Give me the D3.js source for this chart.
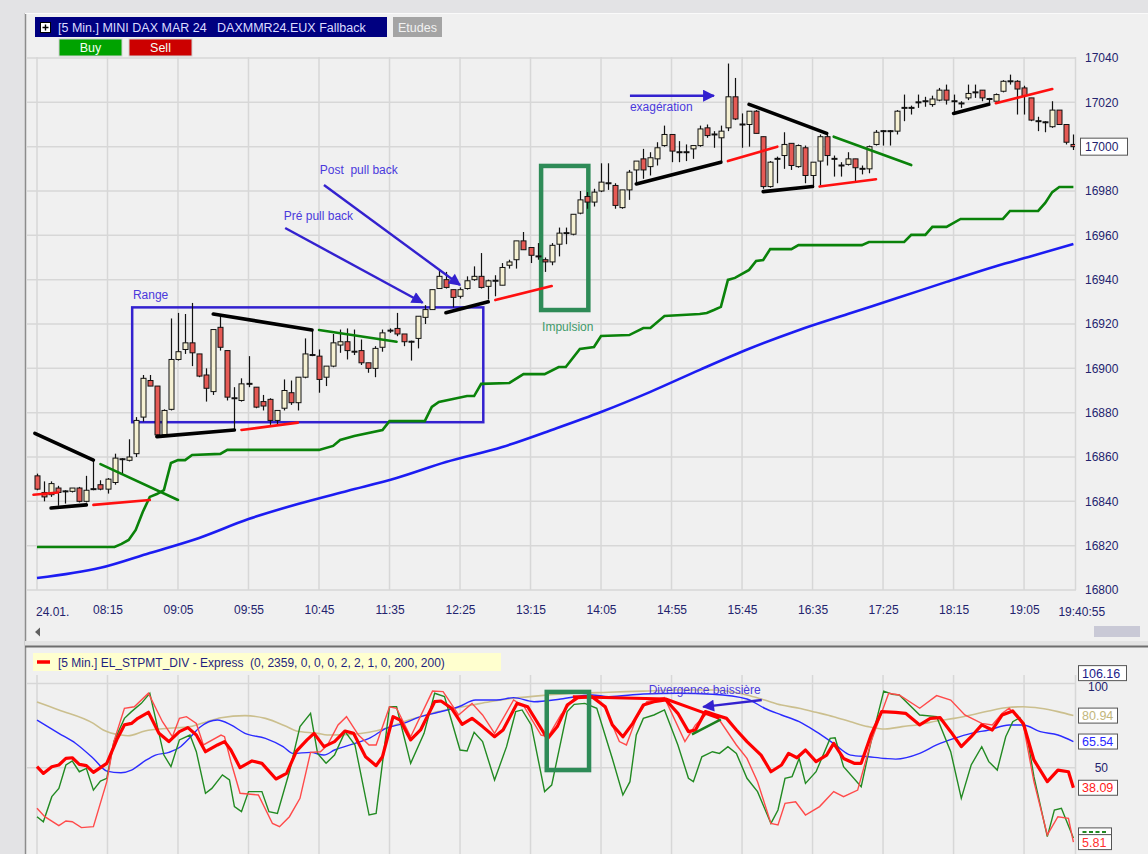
<!DOCTYPE html>
<html lang="fr">
<head>
  <meta charset="UTF-8">
  <title>MINI DAX MAR 24 - 5 Min.</title>
  <script src="https://d3js.org/d3.v7.min.js"></script>
  <style>
    body { margin: 0; background: #e2e2e2; }
    svg { display: block; font-family: "Liberation Sans", Arial, sans-serif; }
  </style>
</head>
<body>
<svg width="1148" height="854"></svg>
<script>
// ---- candles, 5 min bars, bar 0 = 07:25 ----
const opens  = [16851.5,16844,16843,16846,16844.5,16844.5,16846,16840,16845.5,16847.5,16845.5,16848.5,16859,16858.5,16861.5,16878,16894.5,16892,16870,16881.5,
  16904,16908.5,16911.5,16906.5,16897,16889.5,16918.5,16908,16886.5,16885.5,16893,16891.5,16885,16886,16876.5,16882,16889,16884.5,16896,16906,
  16905.5,16896,16901,16910.5,16912,16907.5,16908,16902.5,16900,16909.5,16917,16918,16915.5,16912,16913.5,16923,16926.5,16936,16940,16935.5,
  16932.5,16936,16940,16941.5,16937,16939.5,16937.5,16946.5,16949,16957.5,16954.5,16950.5,16949,16948,16956,16961,16960.5,16970,16977.5,16975,
  16980,16983.5,16982.5,16972.5,16980.5,16989.5,16994.5,16991,16994.5,17000.5,17005.5,16997.5,16997.5,16999,17000.5,17008.5,17005.5,17004,17008.5,17022.5,
  17010,17010,17016,17004.5,16982,16994.5,16996,17001.5,16991,16999.5,16987,16993.5,17004.5,16994.5,16991.5,16992,16994.5,16990,16990,17001,
  17007,17007,17007,17017.5,17017.5,17020,17020.5,17019,17021,17025.5,17020.5,17019.5,17022,17024.5,17025.5,17021.5,17020.5,17025,17029.5,17029.5,
  17026.5,17022,17011.5,17011,17009,17016.5,17010,17001];
const highs  = [16852.5,16849,16849,16847,16845,16846,16846.5,16851.5,16858.5,16849.5,16850.5,16861.5,16859.5,16868,16878,16897,16897,16892,16881.5,16922.5,
  16925,16924.5,16929.5,16906.5,16900,16917.5,16923.5,16908,16891.5,16895.5,16905.5,16891.5,16888,16886.5,16881,16895,16894.5,16896,16913.5,16917.5,
  16908.5,16901,16915.5,16917.5,16918,16917.5,16913,16902.5,16910,16917.5,16918,16925,16915.5,16912.5,16923.5,16928.5,16935.5,16944.5,16943.5,16935.5,
  16936.5,16941.5,16946,16952,16940,16942,16947.5,16949,16957.5,16961.5,16954.5,16956.5,16950,16956.5,16963.5,16963.5,16969.5,16980,16979.5,16981,
  16992.5,16992.5,16983.5,16980.5,16989.5,16993.5,16999,16997.5,17002,17009.5,17005.5,17002.5,17001,17000.5,17009.5,17010,17007,17009.5,17037.5,17031,
  17015,17016,17016.5,17004.5,16993.5,16995.5,17006.5,17001.5,17001,17000.5,16993,17005.5,17005.5,16996,16993,16997.5,16994.5,16991.5,17000.5,17007.5,
  17007.5,17007.5,17016.5,17023.5,17018.5,17023.5,17022.5,17023,17026.5,17028,17023.5,17020.5,17028,17028,17025.5,17022,17024,17030,17032.5,17030,
  17027.5,17022,17013.5,17011.5,17020.5,17016.5,17010,17005.5];
const lows   = [16845,16840,16842,16838,16839,16844,16839.5,16839.5,16845,16845,16843.5,16847.5,16852,16858,16860,16876,16892,16869,16869,16881,
  16903.5,16906.5,16901,16896,16885,16888,16908,16885.5,16872.5,16885,16891.5,16882,16881,16874.5,16874.5,16881,16883.5,16881,16895.5,16905.5,
  16889,16892,16900.5,16907,16904,16906,16901.5,16898,16896,16907.5,16916,16914.5,16910,16903.5,16909,16920,16926.5,16936,16936,16927.5,
  16931.5,16935.5,16939.5,16936,16931,16932.5,16937.5,16945,16945,16953.5,16947.5,16949,16943.5,16946.5,16950.5,16956,16960,16969.5,16972,16973,
  16979.5,16980.5,16972,16972,16976,16983.5,16985.5,16987,16991.5,17000,16993,16993,16993.5,16994.5,17000,17004,16999.5,16993,17007,17012,
  16999.5,17000,17006,16981,16981.5,16983.5,16990,16989.5,16990.5,16983.5,16982,16982.5,16991.5,16986.5,16986.5,16991.5,16984,16987.5,16988,17000.5,
  17000.5,17000.5,17005.5,17011.5,17014.5,17017.5,17018,17018,17020.5,17019,17015,17017.5,17021,17022,17020.5,17019,17020.5,17024.5,17028,17014.5,
  17014.5,17011.5,17007,17006.5,17008.5,17010,17001,16998.5];
const closes = [16845.5,16842,16848,16844,16844.5,16846,16840,16845,16845.5,16845.5,16850,16859.5,16859,16860,16876.5,16895.5,16892,16870,16881,16904,
  16907.5,16911.5,16907,16896.5,16891,16917.5,16909.5,16887,16886.5,16893,16893,16882.5,16883,16876.5,16881,16890,16884.5,16896,16906.5,16906,
  16895,16901,16911.5,16912,16908,16907.5,16902.5,16900,16909,16916,16917,16915.5,16912,16912,16923.5,16926.5,16935.5,16941.5,16936.5,16932,
  16935.5,16939.5,16941.5,16936.5,16939.5,16939.5,16945.5,16948,16957.5,16953.5,16951,16950.5,16948,16955.5,16961,16961,16969.5,16976,16975,16979.5,
  16984,16983.5,16973.5,16980.5,16988.5,16993.5,16989.5,16995,16999.5,17005.5,16998,16997.5,16997.5,17000.5,17008,17005,17005.5,17007,17022.5,17012.5,
  17010,17016,17006,16982,16993,16994.5,17001,16991.5,17000.5,16987,16993,17004.5,16996,16994.5,16991.5,16994.5,16990.5,16990,17000,17006.5,
  17007,17007,17016,17017.5,17017.5,17020,17020.5,17021.5,17025.5,17021,17020.5,17019.5,17024,17024.5,17022,17021.5,17023.5,17029.5,17029.5,17026,
  17023,17012,17011.5,17011,17016.5,17010,17002,17000];

// ---- time axis ----
const gridIdx = [0, 10, 20, 30, 40, 50, 60, 70, 80, 90, 100, 110, 120, 130, 140];
const timeIdx = [10, 20, 30, 40, 50, 60, 70, 80, 90, 100, 110, 120, 130, 140];
const timeLabels = ["08:15","09:05","09:55","10:45","11:35","12:25","13:15","14:05","14:55","15:45","16:35","17:25","18:15","19:05"];
const dayLabel = "24.01.";
const lastTimeLabel = "19:40:55";
const priceTicks = [16800,16820,16840,16860,16880,16900,16920,16940,16960,16980,17000,17020,17040];
const lastPrice = 17000;

// ---- overlays on price chart: [bar, price] ----
const greenStep = [[0,16819.4],[11,16819.4],[12,16820.8],[13,16822.6],[14,16827.1],[15,16835.2],[16,16842],[17,16843.3],[18,16845.1],[19,16857.3],
  [20,16858.6],[21,16858.6],[22,16860.9],[26,16861.4],[27,16863.2],[40,16863.2],[42,16865],[43,16867.7],[45,16869.5],[49,16872.2],[50,16876.2],
  [55,16876.2],[56,16882.6],[57,16884.8],[59,16886.2],[61,16887.5],[62,16887.5],[63,16893],[67,16893.4],[69,16897.4],[72,16897.4],[74,16900.6],
  [75,16900.6],[77,16908.7],[79,16909.6],[80,16914.6],[84,16915],[86,16918.2],[87,16918.2],[89,16923.6],[94,16924.5],[95,16925],[96,16926.3],
  [97,16927.7],[98,16939.9],[99,16940.8],[101,16944.4],[102,16948.4],[103,16948.9],[104,16953.8],[107,16953.8],[108,16955.6],[117,16955.6],
  [118,16957],[123,16957],[124,16960.2],[126,16960.2],[127,16963.8],[129,16963.8],[131,16967.4],[137,16967.4],[138,16971],[142,16971],
  [143,16974.6],[144,16979.5],[145,16981.8],[147,16981.8]];
const blueMa = [[0,16805.4],[9,16810],[16,16816.7],[23,16823.5],[30,16832],[37,16838.8],[44,16844.7],[51,16850.5],[58,16857.7],[66,16864.5],
  [73,16872.2],[80,16880.3],[87,16889.4],[94,16899.3],[101,16908.8],[108,16917.2],[115,16924.5],[122,16931.7],[129,16939],[136,16946.1],
  [141,16950.6],[147,16956.1]];

// divergence trend segments: [bar0, price0, bar1, price1]
const blackLines = [[-0.3,16870.7,8,16858.6],[2,16837,7,16838.4],[17,16869.2,28,16872.2],[25,16924.5,39,16917.3],[58,16925.1,64,16930],
  [85,16983.2,97,16993],[101,17019.1,112,17006],[103,16979.7,110,16982],[130,17015,135,17019.1]];
const redLines = [[-0.5,16843,3,16844],[8,16838.4,16,16840.6],[29,16872.2,37,16875.5],[65,16930.8,73,16937.1],[98,16993.5,105,17000],
  [111,16982,119,16985.3],[136,17019.6,144,17026]];
const greenLines = [[9,16856.8,20,16840.6],[40,16917.3,51,16912],[113,17004.5,124,16991.7]];

// hand drawn annotations
const rangeBox = [13.5, 16927.5, 63.3, 16875.7];
const impulseBox = [71.5, 16991.3, 78.2, 16926.3];
const arrows = [[35.2,16963.3,54.7,16929.6],[40.7,16982.7,60,16937.6],[84.1,17023,96,17023]];
const notes = [["Range",13.6,16931.3],["Pré pull back",35,16966.9],["Post  pull back",40.1,16987.7],["exagération",84.1,17016.1]];

// ---- STPMT indicator: [bar, value] ----
const tanLine = [[0,89],[3.1,84.3],[8,76.3],[9.4,72.4],[11.9,69.4],[12.9,69],[15.3,71.8],[18.7,73.4],[21.7,74.4],[24.1,77.3],[26.1,79.7],
  [29.5,80.9],[32.4,79.3],[35.4,74.4],[36.8,71.8],[39.8,70.4],[41.2,69.4],[44.6,69.8],[47.1,71],[49.5,73.4],[52,77.3],[54.4,80.3],[56.9,83.3],
  [59.3,85.3],[61.7,87.2],[64.2,89.2],[67.6,91.2],[71.5,92.8],[76.2,94.2],[81.1,94.8],[86,95.5],[90.9,96.1],[95.8,96.1],[100.7,93.2],
  [103.2,90.2],[105.6,87.2],[108.1,85.3],[110.5,82.9],[113,80.3],[115.4,77.3],[117.9,74.4],[120.3,73],[122.7,74.4],[125.2,75.7],[127.6,77.7],
  [130.1,79.3],[132.5,81.3],[135,83.7],[137.4,85.6],[139.9,86.2],[142.3,85.3],[144.8,83.3],[147,80.94]];
const blueInd = [[0,78.3],[3.1,70.4],[5.5,64.4],[8,55.5],[9.9,48],[11.9,47],[13.4,48.6],[15.3,54],[16.8,57.5],[18.7,59.1],[20.2,62],
  [21.7,68],[23.1,74],[25.6,78.3],[27.5,75.4],[29.5,70.4],[32.4,67.4],[34.9,62.5],[36.3,58.5],[38.8,59.1],[40.7,57.5],[42.2,60.5],[45.1,64.4],
  [47.1,67.4],[49.5,73.4],[52,76.3],[54.4,80.3],[56.9,82.9],[59.8,86.2],[62.2,90.2],[65.2,90.2],[67.6,91.6],[70.5,89.2],[74.3,90.8],[78.7,93.2],
  [81.1,92.2],[86,93.8],[90.9,94.2],[95.8,93.6],[100.7,90.8],[103.2,85.3],[105.6,81.3],[108.1,77.3],[110.5,71.4],[113,64.4],[115.4,57.5],
  [117.9,56.5],[120.3,55.5],[121.8,55.1],[125.2,58.5],[127.6,63.5],[130.1,67.4],[132.5,70.4],[135,72.4],[137.9,75.4],[139.9,75.4],[142.3,71.4],
  [144.8,69.4],[147,65.54]];
const stpmt = [[0,50.6],[0.9,46.6],[2.1,50.6],[3.1,51.6],[4.1,55.5],[5,55.9],[6,52],[7,51.2],[8,47.2],[9.9,52.6],[11.4,67.4],[12.4,75.4],
  [13.4,76.3],[14.3,79.3],[15.8,82.9],[17.3,70.4],[18.7,65.5],[20.2,71.4],[21.4,73.8],[22.6,69.4],[23.9,59.5],[25.6,63.5],[26.6,65.5],
  [27.5,60.5],[28.8,50],[30.5,54],[31.9,52.6],[33.9,43.3],[35.4,46.6],[36.8,59.9],[38.3,66.5],[39.3,70.4],[40.7,62.5],[42.2,65.5],[43.7,71.8],
  [44.9,70.4],[46.6,56.5],[48.1,51.2],[49,56.5],[50.5,80.3],[51.5,78.3],[53,66.5],[54.4,72.4],[56.4,89.2],[57.3,89.6],[58.8,85.3],[60.3,75.7],
  [61.7,79.3],[63.2,74.4],[64.9,68.4],[66.1,72.4],[68.1,88.2],[69.6,86.2],[72.4,67.2],[73.8,74.4],[75.2,87.2],[76.7,91.6],[78.7,92.2],
  [80.6,86.2],[81.6,75.4],[83.1,68.4],[84.5,76.3],[86,87.2],[87.5,89.2],[89.2,90.2],[90.9,82.3],[92.4,71.4],[93.4,72.4],[94.8,83.3],
  [96.3,81.3],[97.8,79.3],[99.2,72.4],[100.7,65.5],[102.7,57.5],[104.1,47.6],[105.6,51.6],[106.6,58.5],[107.8,55.9],[109,60.5],[110.5,53.6],
  [112,57.5],[113,64.4],[114.4,55.5],[115.9,52.6],[116.9,52.6],[118.3,69.4],[119.8,83.3],[121.8,82.9],[123.2,82.3],[125.2,75.4],[126.7,79.3],
  [128.1,79.7],[129.6,71.4],[131.1,62.5],[132.5,68.4],[134,75.4],[135.5,72.4],[136.9,81.3],[138.4,83.7],[139.9,76.3],[141.4,54.6],[143.3,41.7],
  [144.8,48.6],[146.3,47.6],[147,38.09]];
const redInd = [[0,25.9],[1.1,20.9],[3.1,15.6],[4.1,18.35],[5,17.9],[6.3,14.4],[8,15],[9.9,41.7],[10.9,65.5],[12.4,85.3],[13.8,86.2],
  [15.8,94.2],[17.8,77.3],[19.2,68.4],[20.2,79.3],[21.2,80.3],[22.6,76.3],[23.6,63.5],[26.1,69.4],[26.6,68.4],[27.5,53.6],[28.8,34.8],
  [31.4,33.8],[33.4,16.9],[34.4,15],[35.8,20.9],[37.3,31.8],[38.8,59.1],[40.2,59.5],[41.2,63.5],[42.7,75.4],[43.9,80.3],[45.6,69.4],
  [47.1,63.5],[48.1,63.5],[50,86.2],[51,85.3],[53,68.4],[56.1,95.5],[57.6,95.2],[59.8,81.3],[61.7,88.2],[63.2,81.3],[64.9,70.4],[67.6,90.2],
  [69.1,86.2],[71.5,69.4],[72.5,68.4],[74.3,81.3],[76.2,91.2],[78.7,92.8],[80.6,85.3],[82.6,65.5],[83.6,63.5],[85,79.3],[86.5,89.2],
  [89,91.6],[91.9,65.5],[93.4,75.4],[95.3,83.3],[96.8,78.3],[99.2,63.5],[100.7,55.5],[102.2,41.7],[104.1,16.9],[105.1,16],[106.1,28.8],
  [107.6,29.8],[109,21.9],[111,26.9],[113,35.8],[114.4,32.8],[116.4,36.7],[118.3,65.5],[120.8,94.2],[122.3,93.2],[125.2,85.3],[127.6,92.8],
  [129.6,90.2],[131.6,81.3],[134,76.3],[135.5,75.4],[136.9,82.3],[137.9,85.3],[139.9,75.4],[141.4,41.7],[143.3,10.1],[144.8,20.9],
  [146.3,19.9],[147,5.81]];
const greenInd = [[0,20.9],[0.9,17.9],[2.1,32.8],[3.1,37.7],[4.1,51.6],[5,54],[6,47.6],[7,49.6],[8,36.7],[9,42.1],[9.9,43.7],[10.9,65.5],
  [12.4,79.3],[13.4,83.3],[14.8,88.2],[16,94.2],[18,57.5],[19,50.6],[20.2,66.5],[21.7,69.4],[22.6,59.5],[23.9,34.8],[24.8,37.7],[26.3,45.7],
  [27.3,42.7],[28,26.9],[29,23.9],[30,35.8],[31.9,35.8],[32.9,23.9],[34.1,22.9],[35.8,47.6],[37.3,74.4],[38.8,82.3],[39.8,58.5],[41,52.6],
  [42.2,57.5],[43.7,71.4],[45.1,63.5],[47.1,21.9],[48.1,22.9],[50,86.2],[51,86.2],[53,52.6],[54.9,70.4],[56.4,94.2],[57.8,92.2],[60,60.5],
  [61,59.9],[62,71],[63.2,65.5],[64.9,42.7],[66.6,62.5],[67.9,83.3],[68.8,84.3],[70.1,75.4],[72,35.8],[73,39.7],[74.3,65.5],[75.2,83.3],
  [76.2,87.6],[77.7,88.2],[79.4,85.3],[81.6,55.5],[83.1,33.8],[84.1,41.7],[85,69.4],[86,79.3],[87.5,81.3],[89,84.3],[90.9,63.5],[92.4,43.7],
  [93.1,41.7],[94.3,56.5],[95.8,59.5],[96.8,58.5],[98,62.5],[99.2,58.5],[100.7,43.7],[102.2,35.8],[104.1,16.9],[105.1,24.9],[106.1,43.7],
  [107.1,44.7],[108.1,55.5],[109,40.7],[110.5,47.6],[112.5,67.4],[113.2,67.8],[114.4,50.6],[116.9,38.7],[118.3,65.5],[120.1,95.5],
  [121.3,93.6],[122.3,93.2],[125.2,81.3],[127.6,80.3],[129.6,59.5],[131.1,31.8],[132.5,51.6],[134,62.5],[135,53.6],[136.2,48.6],[137.4,68.4],
  [138.4,77.3],[139.4,79.7],[140.4,69.4],[141.4,44.7],[143.3,9.05],[144.3,24.9],[145.3,25.9],[147,8.3]];
const divRed = [[76,92.2],[89.2,90.8],[96.8,79.3]];
const divGreen = [[92.9,69.8],[97,78.7]];
const indBox = [72.3, 95.0, 78.3, 48.6];
const divArrow = [102.8, 90.2, 94.5, 86.1];
const divNote = ["Divergence baissière", 94.7, 93.8];
const indTicks = [100, 50];
const indLast = [["106.16",106.16,"#1c1c8a"],["80.94",80.94,"#c2b67c"],["65.54",65.54,"#2a2aff"],["38.09",38.09,"#ff1a1a"],["5.81",5.81,"#ff3030"]];
const hiddenLastValue = 9.8;   // green value box, covered by the red one

const purple = "#3321cf", noteColor = "#4a39dc", axisText = "#23236e", gridColor = "#d7d7d7";

const svg = d3.select("svg");
const defs = svg.append("defs");
defs.append("clipPath").attr("id", "clipMain").append("rect").attr("x", 26).attr("y", 57).attr("width", 1049).attr("height", 541);
defs.append("clipPath").attr("id", "clipInd").append("rect").attr("x", 26).attr("y", 675).attr("width", 1049).attr("height", 179);
defs.append("marker").attr("id", "arrow").attr("viewBox", "0 0 10 10").attr("refX", 9).attr("refY", 5)
  .attr("markerWidth", 5.5).attr("markerHeight", 5).attr("orient", "auto")
  .append("path").attr("d", "M0,0L10,5L0,10z").attr("fill", purple);

// scales
const x = d3.scaleLinear().domain([0, 147]).range([37, 1073.4]);
const y = d3.scaleLinear().domain([16800, 17040]).range([590, 58]);
const yi = d3.scaleLinear().domain([0, 100]).range([851.9, 683.5]);

// window frame
svg.append("rect").attr("width", 1148).attr("height", 854).attr("fill", "#e3e3e5");
svg.append("rect").attr("x", 25).attr("y", 13).attr("width", 1123).attr("height", 841).attr("fill", "#f0f0f0");
svg.append("line").attr("x1", 25.5).attr("x2", 25.5).attr("y1", 13).attr("y2", 854).attr("stroke", "#8c8c8c").attr("stroke-width", 1.5);
svg.append("line").attr("x1", 25).attr("x2", 1148).attr("y1", 13.5).attr("y2", 13.5).attr("stroke", "#fafafa");

// ---------------- price panel ----------------
const gMain = svg.append("g");
gMain.selectAll(".hg").data(priceTicks).join("line")
  .attr("x1", 26).attr("x2", 1076).attr("y1", d => y(d)).attr("y2", d => y(d))
  .attr("stroke", gridColor).attr("stroke-width", 1.5);
gMain.selectAll(".vg").data(gridIdx).join("line")
  .attr("x1", d => x(d)).attr("x2", d => x(d)).attr("y1", 57).attr("y2", 590)
  .attr("stroke", gridColor).attr("stroke-width", 1.5);
gMain.append("line").attr("x1", 1075.5).attr("x2", 1075.5).attr("y1", 57).attr("y2", 590).attr("stroke", gridColor).attr("stroke-width", 1.5);

// header bar
svg.append("rect").attr("x", 35).attr("y", 17).attr("width", 352).attr("height", 20).attr("fill", "#000080");
svg.append("rect").attr("x", 40.5).attr("y", 22.5).attr("width", 10).attr("height", 10).attr("fill", "#fff").attr("stroke", "#000");
svg.append("path").attr("d", "M42.5,27.5H48.5M45.5,24.5V30.5").attr("stroke", "#000").attr("stroke-width", 1.4);
svg.append("text").attr("x", 58).attr("y", 32).attr("fill", "#dcdcff").attr("font-size", 12.5)
  .style("white-space", "pre").text("[5 Min.] MINI DAX MAR 24   DAXMMR24.EUX Fallback");
svg.append("rect").attr("x", 393).attr("y", 17).attr("width", 49).attr("height", 20).attr("fill", "#a4a4a4");
svg.append("text").attr("x", 417.5).attr("y", 32).attr("text-anchor", "middle").attr("fill", "#f2f2f2").attr("font-size", 12.5).text("Etudes");
const buttons = [["Buy", 59, "#00a300"], ["Sell", 129, "#cc0000"]];
buttons.forEach(([t, bx, c]) => {
  svg.append("rect").attr("x", bx).attr("y", 39).attr("width", 63).attr("height", 17).attr("fill", c).attr("stroke", "#d0d0d0");
  svg.append("text").attr("x", bx + 31.5).attr("y", 52).attr("text-anchor", "middle").attr("fill", "#f4fff4").attr("font-size", 12.5).text(t);
});

const plot = svg.append("g").attr("clip-path", "url(#clipMain)");
const lineP = d3.line().x(d => x(d[0])).y(d => y(d[1]));

// range rectangle and impulse box (under candles)
plot.append("rect").attr("x", x(rangeBox[0])).attr("y", y(rangeBox[1]))
  .attr("width", x(rangeBox[2]) - x(rangeBox[0])).attr("height", y(rangeBox[3]) - y(rangeBox[1]))
  .attr("fill", "none").attr("stroke", purple).attr("stroke-width", 2.5);
plot.append("rect").attr("x", x(impulseBox[0])).attr("y", y(impulseBox[1]))
  .attr("width", x(impulseBox[2]) - x(impulseBox[0])).attr("height", y(impulseBox[3]) - y(impulseBox[1]))
  .attr("fill", "none").attr("stroke", "#2e8b57").attr("stroke-width", 4.5);

plot.append("path").datum(greenStep).attr("d", lineP).attr("fill", "none").attr("stroke", "#0a820a").attr("stroke-width", 2.6);
plot.append("path").datum(blueMa).attr("d", lineP.curve(d3.curveMonotoneX)).attr("fill", "none").attr("stroke", "#1c1cf2").attr("stroke-width", 2.6);
lineP.curve(d3.curveLinear);

// candles
const candles = opens.map((o, i) => ({ i, o, h: highs[i], l: lows[i], c: closes[i] }));
plot.selectAll(".wick").data(candles).join("line")
  .attr("x1", d => Math.round(x(d.i)) + 0.5).attr("x2", d => Math.round(x(d.i)) + 0.5)
  .attr("y1", d => y(d.h)).attr("y2", d => y(d.l)).attr("stroke", "#111").attr("stroke-width", 1.2);
plot.selectAll(".body").data(candles.filter(d => d.o !== d.c)).join("rect")
  .attr("x", d => Math.round(x(d.i)) - 2).attr("y", d => y(Math.max(d.o, d.c)))
  .attr("width", 5).attr("height", d => Math.max(1.5, Math.abs(y(d.o) - y(d.c))))
  .attr("fill", d => d.c > d.o ? "#f6f1d3" : "#e65a55").attr("stroke", "#111").attr("stroke-width", 1);
plot.selectAll(".doji").data(candles.filter(d => d.o === d.c)).join("line")
  .attr("x1", d => Math.round(x(d.i)) - 2.5).attr("x2", d => Math.round(x(d.i)) + 3.5)
  .attr("y1", d => y(d.o)).attr("y2", d => y(d.o)).attr("stroke", "#111").attr("stroke-width", 2);

// trend segments
const seg = (data, color, w) => plot.selectAll(null).data(data).join("line")
  .attr("x1", d => x(d[0])).attr("y1", d => y(d[1])).attr("x2", d => x(d[2])).attr("y2", d => y(d[3]))
  .attr("stroke", color).attr("stroke-width", w).attr("stroke-linecap", "round");
seg(redLines, "#ff1010", 2.6);
seg(greenLines, "#0a820a", 2.6);
seg(blackLines, "#000", 3.6);

// annotations
plot.selectAll(".arr").data(arrows).join("line")
  .attr("x1", d => x(d[0])).attr("y1", d => y(d[1])).attr("x2", d => x(d[2])).attr("y2", d => y(d[3]))
  .attr("stroke", purple).attr("stroke-width", 2.4).attr("marker-end", "url(#arrow)");
plot.selectAll(".note").data(notes).join("text")
  .attr("x", d => x(d[1])).attr("y", d => y(d[2])).attr("fill", noteColor).attr("font-size", 12)
  .style("white-space", "pre").text(d => d[0]);
plot.append("text").attr("x", x(impulseBox[0]) + 1).attr("y", y(16916.8)).attr("fill", "#3f9a6a").attr("font-size", 12).text("Impulsion");

// price axis
const yAxis = svg.append("g").attr("transform", "translate(1080,0)")
  .call(d3.axisRight(y).tickValues(priceTicks).tickSize(0).tickPadding(5).tickFormat(d3.format("d")));
yAxis.select(".domain").remove();
yAxis.selectAll("text").attr("fill", axisText).attr("font-size", 12).attr("font-family", "Liberation Sans, Arial, sans-serif");
svg.append("rect").attr("x", 1080.5).attr("y", y(lastPrice) - 8.5).attr("width", 47).attr("height", 17)
  .attr("fill", "#fff").attr("stroke", "#555");
svg.append("text").attr("x", 1085).attr("y", y(lastPrice) + 4.5).attr("fill", axisText).attr("font-size", 12).text(d3.format("d")(lastPrice));

// time axis
const xAxis = svg.append("g").attr("transform", "translate(0,600)")
  .call(d3.axisBottom(x).tickValues(timeIdx).tickSize(0).tickPadding(5).tickFormat((d, k) => timeLabels[k]));
xAxis.select(".domain").remove();
xAxis.selectAll("text").attr("fill", axisText).attr("font-size", 12).attr("font-family", "Liberation Sans, Arial, sans-serif");
svg.append("text").attr("x", x(0) - 1).attr("y", 616).attr("fill", axisText).attr("font-size", 12).text(dayLabel);
svg.append("text").attr("x", x(147) - 15).attr("y", 616).attr("fill", axisText).attr("font-size", 12).text(lastTimeLabel);

// scroll bar and separator
svg.append("path").attr("d", "M35,632L40,627.5V636.5z").attr("fill", "#606060");
svg.append("rect").attr("x", 1094).attr("y", 626).attr("width", 46).attr("height", 11).attr("fill", "#c9c9d6");
svg.append("rect").attr("x", 25).attr("y", 641).attr("width", 1123).attr("height", 5).attr("fill", "#e4e4e4");
svg.append("line").attr("x1", 25).attr("x2", 1148).attr("y1", 646.5).attr("y2", 646.5).attr("stroke", "#6e6e6e").attr("stroke-width", 2);

// ---------------- indicator panel ----------------
const gInd = svg.append("g");
gInd.selectAll(".hg").data(indTicks).join("line")
  .attr("x1", 26).attr("x2", 1076).attr("y1", d => yi(d)).attr("y2", d => yi(d))
  .attr("stroke", gridColor).attr("stroke-width", 1.5);
gInd.selectAll(".vg").data(gridIdx).join("line")
  .attr("x1", d => x(d)).attr("x2", d => x(d)).attr("y1", 675).attr("y2", 854)
  .attr("stroke", gridColor).attr("stroke-width", 1.5);
gInd.append("line").attr("x1", 1075.5).attr("x2", 1075.5).attr("y1", 675).attr("y2", 854).attr("stroke", gridColor).attr("stroke-width", 1.5);

svg.append("rect").attr("x", 33).attr("y", 653).attr("width", 468).attr("height", 18).attr("fill", "#ffffcf");
svg.append("line").attr("x1", 37).attr("x2", 50).attr("y1", 662).attr("y2", 662).attr("stroke", "#ff0000").attr("stroke-width", 3.5);
svg.append("text").attr("x", 58).attr("y", 666.5).attr("fill", "#1f1f80").attr("font-size", 12)
  .style("white-space", "pre").text("[5 Min.] EL_STPMT_DIV - Express  (0, 2359, 0, 0, 0, 2, 2, 1, 0, 200, 200)");

const ind = svg.append("g").attr("clip-path", "url(#clipInd)");
const lineI = d3.line().x(d => x(d[0])).y(d => yi(d[1]));
ind.append("path").datum(tanLine).attr("d", lineI.curve(d3.curveMonotoneX)).attr("fill", "none").attr("stroke", "#cbbf8e").attr("stroke-width", 1.6);
ind.append("path").datum(blueInd).attr("d", lineI.curve(d3.curveMonotoneX)).attr("fill", "none").attr("stroke", "#2b2bff").attr("stroke-width", 1.4);
lineI.curve(d3.curveLinear);
ind.append("path").datum(greenInd).attr("d", lineI).attr("fill", "none").attr("stroke", "#228a22").attr("stroke-width", 1.4);
ind.append("path").datum(redInd).attr("d", lineI).attr("fill", "none").attr("stroke", "#ff4a4a").attr("stroke-width", 1.4);
ind.append("path").datum(stpmt).attr("d", lineI).attr("fill", "none").attr("stroke", "#ff0000").attr("stroke-width", 3.2).attr("stroke-linejoin", "round");
ind.append("path").datum(divRed).attr("d", lineI).attr("fill", "none").attr("stroke", "#ff0000").attr("stroke-width", 3);
ind.append("path").datum(divGreen).attr("d", lineI).attr("fill", "none").attr("stroke", "#1c7f1c").attr("stroke-width", 2.4);
ind.append("rect").attr("x", x(indBox[0])).attr("y", yi(indBox[1]))
  .attr("width", x(indBox[2]) - x(indBox[0])).attr("height", yi(indBox[3]) - yi(indBox[1]))
  .attr("fill", "none").attr("stroke", "#2e8b57").attr("stroke-width", 4.5);
ind.append("line").attr("x1", x(divArrow[0])).attr("y1", yi(divArrow[1])).attr("x2", x(divArrow[2])).attr("y2", yi(divArrow[3]))
  .attr("stroke", purple).attr("stroke-width", 2.4).attr("marker-end", "url(#arrow)");
svg.append("text").attr("x", x(divNote[1])).attr("y", yi(divNote[2])).attr("text-anchor", "middle")
  .attr("fill", noteColor).attr("font-size", 12).text(divNote[0]);

// indicator axis labels ("100" sits a little below its line, as in the platform)
const iAxis = svg.append("g").attr("transform", "translate(1108,0)")
  .call(d3.axisLeft(yi).tickValues(indTicks).tickSize(0).tickPadding(0));
iAxis.select(".domain").remove();
iAxis.selectAll("text").attr("fill", axisText).attr("font-size", 12).attr("font-family", "Liberation Sans, Arial, sans-serif")
  .attr("dy", d => d === 100 ? "0.62em" : "0.32em");

// last value boxes; the green one only peeks out above the red one
const hid = svg.append("g").attr("transform", `translate(1078.5,${yi(hiddenLastValue)})`);
hid.append("rect").attr("y", -7.5).attr("width", 33).attr("height", 15).attr("fill", "#fff").attr("stroke", "#555");
hid.append("line").attr("x1", 4).attr("x2", 29).attr("y1", -3.5).attr("y2", -3.5)
  .attr("stroke", "#228a22").attr("stroke-width", 2).attr("stroke-dasharray", "4,2.5");
const lab = svg.selectAll(".lv").data(indLast).join("g").attr("transform", d => `translate(1078.5,${yi(d[1])})`);
lab.append("rect").attr("x", 0).attr("y", -7.5).attr("width", d => d[0].length > 5 ? 48 : (d[0].length > 4 ? 39 : 33)).attr("height", 15)
  .attr("fill", "#fff").attr("stroke", "#555");
lab.append("text").attr("x", 3.5).attr("y", 4.5).attr("fill", d => d[2]).attr("font-size", 12.5).text(d => d[0]);
</script>
</body>
</html>
